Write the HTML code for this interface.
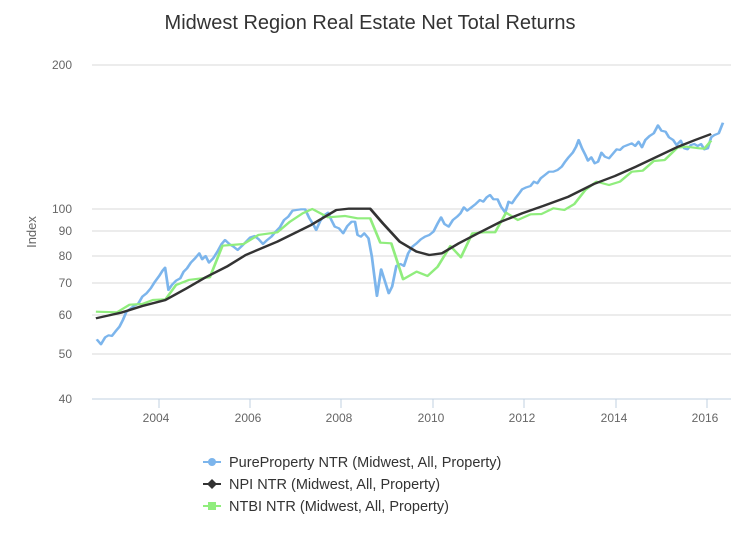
<!DOCTYPE html><html><head><style>body{margin:0;background:#fff}svg{display:block;font-family:"Liberation Sans",sans-serif}</style></head><body>
<svg width="740" height="543" viewBox="0 0 740 543">
<text x="370" y="29" text-anchor="middle" font-size="20" fill="#333">Midwest Region Real Estate Net Total Returns</text>
<g stroke="#d8d8d8" stroke-width="1">
<line x1="92" x2="731" y1="65" y2="65"/><line x1="92" x2="731" y1="209" y2="209"/><line x1="92" x2="731" y1="231" y2="231"/><line x1="92" x2="731" y1="256" y2="256"/><line x1="92" x2="731" y1="283" y2="283"/><line x1="92" x2="731" y1="315" y2="315"/><line x1="92" x2="731" y1="354" y2="354"/>
</g>
<line x1="92" x2="731" y1="399" y2="399" stroke="#c0d0e0"/>
<g stroke="#c0d0e0"><line x1="159" x2="159" y1="399" y2="408"/><line x1="250" x2="250" y1="399" y2="408"/><line x1="341" x2="341" y1="399" y2="408"/><line x1="433" x2="433" y1="399" y2="408"/><line x1="524" x2="524" y1="399" y2="408"/><line x1="616" x2="616" y1="399" y2="408"/><line x1="707" x2="707" y1="399" y2="408"/></g>
<g font-size="12" fill="#666" text-anchor="middle"><text x="156" y="422">2004</text><text x="248" y="422">2006</text><text x="339" y="422">2008</text><text x="431" y="422">2010</text><text x="522" y="422">2012</text><text x="614" y="422">2014</text><text x="705" y="422">2016</text></g>
<g font-size="12" fill="#666" text-anchor="end"><text x="72" y="69">200</text><text x="72" y="213">100</text><text x="72" y="235">90</text><text x="72" y="260">80</text><text x="72" y="287">70</text><text x="72" y="319">60</text><text x="72" y="358">50</text><text x="72" y="403">40</text></g>
<text transform="translate(36,232) rotate(-90)" text-anchor="middle" font-size="13" fill="#666">Index</text>
<g transform="translate(79,100) scale(0.422,0.3333)" fill="none" stroke-width="6.5" stroke-linejoin="round">
<polyline stroke="#7cb5ec" points="42,718 52,733 62,712 70,706 78,708 86,695 96,680 104,660 112,636 120,628 130,618 140,612 150,590 160,580 170,565 180,545 190,528 198,512 204,503 212,570 220,555 230,542 240,535 248,515 256,505 265,488 275,475 285,460 292,478 300,468 308,488 318,475 328,455 338,432 346,420 356,432 366,440 376,450 386,438 396,425 406,412 416,408 426,418 436,432 446,420 456,410 466,395 476,382 486,360 496,350 506,332 516,330 526,328 536,328 546,355 556,375 562,390 572,362 582,345 590,338 598,360 606,380 616,385 626,400 636,378 646,365 654,365 660,405 668,410 676,400 686,415 694,470 700,530 706,588 716,508 724,540 734,580 742,560 752,498 762,492 770,498 780,460 790,440 800,430 810,418 820,410 830,405 840,395 850,370 858,352 866,372 876,380 886,360 896,350 904,340 912,322 920,332 930,322 940,312 950,300 958,305 966,292 974,285 982,298 992,298 1000,320 1010,338 1018,305 1026,310 1034,295 1042,282 1050,268 1060,262 1070,258 1078,245 1086,250 1094,235 1104,225 1114,215 1124,215 1134,210 1144,200 1152,185 1160,172 1170,158 1178,140 1184,120 1192,145 1200,165 1206,182 1214,172 1222,190 1230,185 1238,158 1246,170 1256,175 1266,160 1274,148 1282,150 1290,140 1300,135 1310,130 1318,138 1326,125 1334,142 1342,120 1352,108 1362,100 1372,76 1380,92 1390,95 1398,112 1408,120 1416,135 1426,122 1434,145 1442,148 1450,135 1458,132 1466,138 1474,132 1482,148 1490,145 1498,112 1506,105 1516,100 1526,68"/>
<polyline stroke="#90ed7d" points="40,635 90,637 120,614 150,612 175,600 205,598 230,555 260,540 310,532 340,437 390,432 425,405 470,397 500,365 530,340 553,327 590,352 630,348 660,355 690,355 714,428 740,430 768,538 800,515 826,528 850,500 880,438 905,472 932,400 960,397 986,397 1012,338 1040,360 1070,343 1096,342 1124,325 1150,330 1174,312 1200,270 1226,245 1256,255 1282,245 1310,215 1336,212 1362,183 1388,180 1418,143 1440,140 1470,145 1482,146 1498,122"/>
<polyline stroke="#333" stroke-width="7" points="40,655 100,638 150,618 205,600 255,565 300,532 350,500 395,465 470,425 550,375 610,330 640,326 690,326 720,370 760,425 800,455 830,465 860,460 900,430 950,397 1000,365 1050,340 1100,318 1160,290 1220,252 1270,228 1320,200 1370,170 1420,140 1460,120 1498,102"/>
</g>
<g font-size="14.5" fill="#333">
<line x1="203" x2="221" y1="462" y2="462" stroke="#7cb5ec" stroke-width="2"/><circle cx="212" cy="462" r="4" fill="#7cb5ec"/><text x="229" y="467">PureProperty NTR (Midwest, All, Property)</text>
<line x1="203" x2="221" y1="484" y2="484" stroke="#333" stroke-width="2"/><path d="M212 479 L217 484 L212 489 L207 484Z" fill="#333"/><text x="229" y="489">NPI NTR (Midwest, All, Property)</text>
<line x1="203" x2="221" y1="506" y2="506" stroke="#90ed7d" stroke-width="2"/><rect x="208" y="502" width="8" height="8" fill="#90ed7d"/><text x="229" y="511">NTBI NTR (Midwest, All, Property)</text>
</g>
</svg></body></html>
